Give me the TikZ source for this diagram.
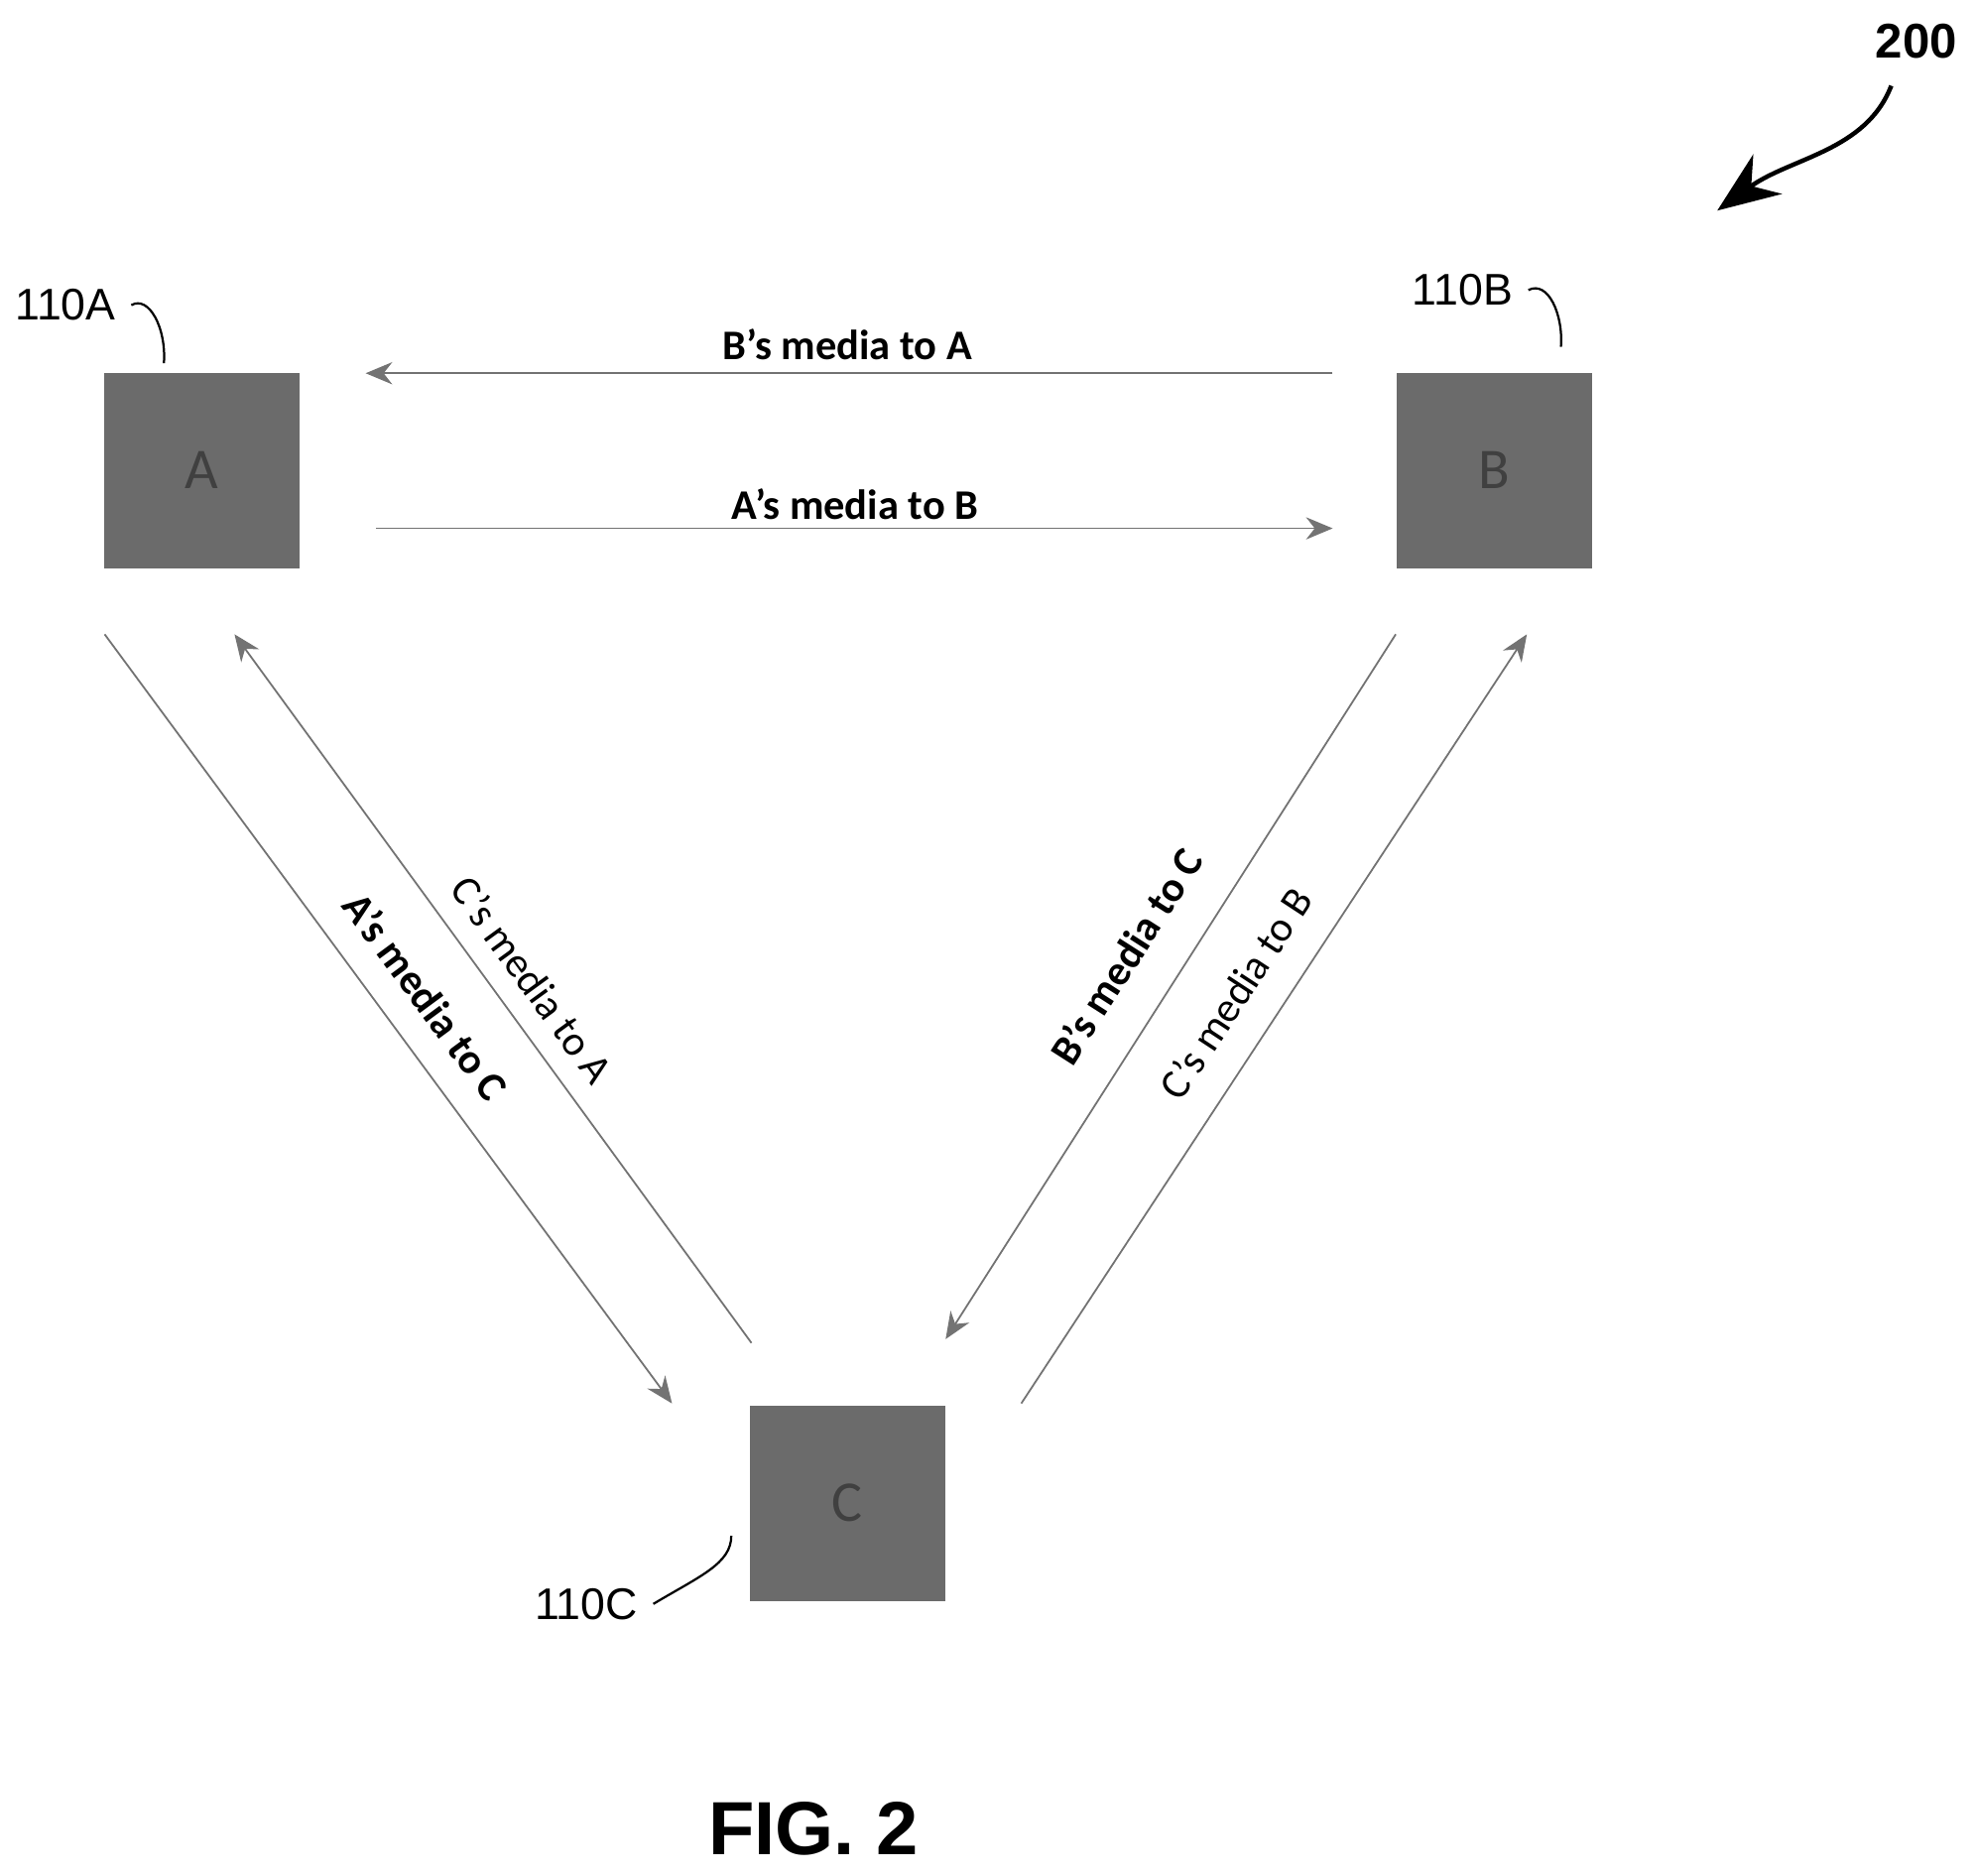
\documentclass[tikz,border=0pt]{standalone}
\usepackage{fontspec}
\setmainfont{Carlito}
\newfontfamily\refsf{Liberation Sans}
\usetikzlibrary{arrows.meta}
\tikzset{
  station/.style={draw=none,fill=black!58,minimum size=1.55cm,inner sep=0pt,
    font=\fontsize{13}{13}\selectfont,text=black!75},
  media/.style={draw=black!55,line width=0.4pt,-{Stealth[length=6pt,width=5pt]}},
  lbl/.style={font=\fontsize{9.5}{10}\selectfont,inner sep=1pt},
  blbl/.style={lbl,font=\bfseries\fontsize{9.5}{10}\selectfont},
  ref/.style={font=\refsf\fontsize{10}{10}\selectfont},
  leader/.style={draw=black,line width=0.5pt}
}
\begin{document}
\begin{tikzpicture}[x=0.01cm,y=-0.01cm]
  \useasboundingbox (0,0) rectangle (1568,1487);
  % stations
  \node[station] (A) at (160,373) {A};
  \node[station] (B) at (1185,373) {B};
  \node[station] (C) at (672,1192) {C};
  % connector ends
  \coordinate (ba1) at (1057,296); \coordinate (ba2) at (290,296);
  \coordinate (ab1) at (298,419); \coordinate (ab2) at (1057,419);
  \coordinate (ac1) at (83,503); \coordinate (ac2) at (533,1113);
  \coordinate (ca1) at (596,1065); \coordinate (ca2) at (186,503);
  \coordinate (bc1) at (1107,503); \coordinate (bc2) at (750,1062);
  \coordinate (cb1) at (810,1113); \coordinate (cb2) at (1211,503);
  \draw[media] (ba1) -- (ba2);
  \draw[media] (ab1) -- (ab2);
  \draw[media] (ac1) -- (ac2);
  \draw[media] (ca1) -- (ca2);
  \draw[media] (bc1) -- (bc2);
  \draw[media] (cb1) -- (cb2);
  % labels
  \node[blbl] (lba) at (672,273) {B’s media to A};
  \node[blbl] (lab) at (678,400) {A’s media to B};
  \node[blbl,rotate=-53.6] (lac) at (338,790) {A’s media to C};
  \node[lbl,rotate=-54] (lca) at (422,777) {C’s media to A};
  \node[blbl,rotate=57.4] (lbc) at (893,758) {B’s media to C};
  \node[lbl,rotate=56.7] (lcb) at (980,788) {C’s media to B};
  % reference numerals
  \node[ref] (rA) at (52,242) {110A};
  \node[ref] (rB) at (1160,230) {110B};
  \node[ref] (rC) at (465,1272) {110C};
  \node[ref,font=\refsf\bfseries\fontsize{11}{11}\selectfont] (r200) at (1520,33) {200};
  \coordinate (tA) at (130,288); \coordinate (tB) at (1238,275); \coordinate (tC) at (580,1218);
  \coordinate (t200) at (1362,167);
  \draw[leader] (rA.east) .. controls (118,234) and (132,260) .. (tA);
  \draw[leader] (rB.east) .. controls (1228,222) and (1240,250) .. (tB);
  \draw[leader] (rC.east) .. controls (555,1250) and (580,1240) .. (tC);
  \draw[leader,line width=1pt,-{Stealth[length=14pt,width=11pt]}] (1500,68) .. controls (1480,120) and (1420,125) .. (t200);
  \node[font=\refsf\bfseries\fontsize{17}{17}\selectfont] (fig) at (645,1450) {FIG. 2};
\end{tikzpicture}
\end{document}
